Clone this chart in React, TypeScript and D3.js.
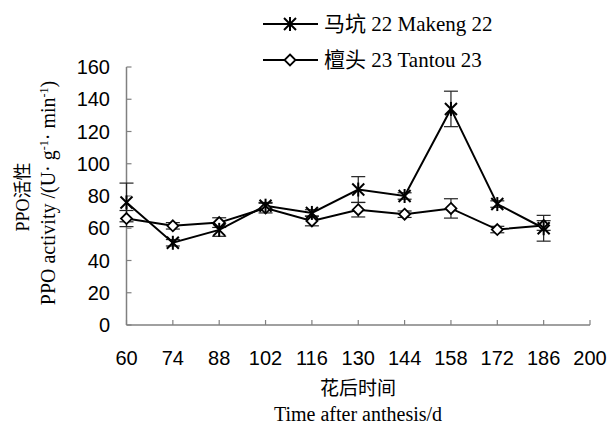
import React from "react";
import * as d3 from "d3";

const days = [60, 74, 88, 102, 116, 130, 144, 158, 172, 186];
const makeng = [76, 51, 59, 74, 69.5, 84, 80, 134, 75, 60];
const makengErr = [12, 2, 4, 2, 2, 8, 2, 11, 2, 8];
const tantou = [66, 61.5, 63.5, 72.5, 64.5, 71.5, 68.7, 72.3, 59.2, 61.7];
const tantouErr = [5, 2, 3, 3, 3, 4.5, 2, 6, 2, 3];
const xTicks = [60, 74, 88, 102, 116, 130, 144, 158, 172, 186, 200];
const yTicks = [0, 20, 40, 60, 80, 100, 120, 140, 160];

export default function App() {
  const W = 610, H = 427;
  const x = d3.scaleLinear().domain([60, 200]).range([126.5, 590]);
  const y = d3.scaleLinear().domain([0, 160]).range([325, 67]);
  const line = d3.line<number>().x((_, i) => x(days[i])).y((d) => y(d));
  const axisColor = "#808080";
  const sans = "'Liberation Sans', Arial, sans-serif";
  const serif = "'Liberation Serif', 'Times New Roman', 'Noto Sans CJK SC', serif";

  const star = (cx: number, cy: number, key: string) => (
    <g key={key} stroke="#000" strokeWidth={2}>
      <line x1={cx - 6} y1={cy - 6} x2={cx + 6} y2={cy + 6} />
      <line x1={cx - 6} y1={cy + 6} x2={cx + 6} y2={cy - 6} />
      <line x1={cx} y1={cy - 7} x2={cx} y2={cy + 7} />
    </g>
  );
  const diamond = (cx: number, cy: number, key: string) => (
    <path
      key={key}
      d={`M${cx},${cy - 5.5}L${cx + 5.5},${cy}L${cx},${cy + 5.5}L${cx - 5.5},${cy}Z`}
      fill="#fff"
      stroke="#000"
      strokeWidth={1.8}
    />
  );
  const errBar = (cx: number, v: number, e: number, key: string) => (
    <g key={key} stroke="#222" strokeWidth={1.2}>
      <line x1={cx} y1={y(v - e)} x2={cx} y2={y(v + e)} />
      <line x1={cx - 7} y1={y(v - e)} x2={cx + 7} y2={y(v - e)} />
      <line x1={cx - 7} y1={y(v + e)} x2={cx + 7} y2={y(v + e)} />
    </g>
  );

  return (
    <svg width={W} height={H} style={{ position: "absolute", left: 0, top: 0, background: "#fff" }}>
      {/* axes */}
      <line x1={x(60)} y1={y(0)} x2={x(200)} y2={y(0)} stroke={axisColor} strokeWidth={1.5} />
      <line x1={x(60)} y1={y(0)} x2={x(60)} y2={y(160)} stroke={axisColor} strokeWidth={1.5} />
      {yTicks.map((t) => (
        <g key={"yt" + t}>
          <line x1={x(60)} x2={x(60) + 5} y1={y(t)} y2={y(t)} stroke={axisColor} strokeWidth={1.2} />
          <text x={110} y={y(t)} dy="0.36em" textAnchor="end" fontFamily={sans} fontSize={20} fill="#000">
            {t}
          </text>
        </g>
      ))}
      {xTicks.map((t) => (
        <g key={"xt" + t}>
          <line x1={x(t)} x2={x(t)} y1={y(0)} y2={y(0) - 5} stroke={axisColor} strokeWidth={1.2} />
          <text x={x(t)} y={365} textAnchor="middle" fontFamily={sans} fontSize={20} fill="#000">
            {t}
          </text>
        </g>
      ))}
      {/* error bars */}
      {days.map((d, i) => errBar(x(d), makeng[i], makengErr[i], "me" + i))}
      {days.map((d, i) => errBar(x(d), tantou[i], tantouErr[i], "te" + i))}
      {/* lines */}
      <path d={line(makeng) || ""} fill="none" stroke="#000" strokeWidth={2} />
      <path d={line(tantou) || ""} fill="none" stroke="#000" strokeWidth={2} />
      {days.map((d, i) => diamond(x(d), y(tantou[i]), "td" + i))}
      {days.map((d, i) => star(x(d), y(makeng[i]), "ms" + i))}
      {/* legend */}
      <line x1={263} x2={318} y1={24} y2={24} stroke="#000" strokeWidth={2} />
      {star(290, 24, "ls")}
      <text x={324} y={31} fontFamily={serif} fontSize={21} fill="#000">马坑 22 Makeng 22</text>
      <line x1={263} x2={318} y1={60} y2={60} stroke="#000" strokeWidth={2} />
      {diamond(290, 60, "ld")}
      <text x={324} y={67} fontFamily={serif} fontSize={21} fill="#000">檀头 23 Tantou 23</text>
      {/* axis titles */}
      <text x={358} y={395} textAnchor="middle" fontFamily={serif} fontSize={19} fill="#000">花后时间</text>
      <text x={358} y={421} textAnchor="middle" fontFamily={serif} fontSize={20} fill="#000">Time after anthesis/d</text>
      <g transform="translate(29,197) rotate(-90)">
        <text x={0} y={0} textAnchor="middle" fontFamily={serif} fontSize={18} fill="#000">PPO活性</text>
      </g>
      <g transform="translate(55,193) rotate(-90)">
        <text x={0} y={0} textAnchor="middle" fontFamily={serif} fontSize={20} fill="#000">
          PPO activity /(U· g<tspan dy={-7} fontSize={12}>-1</tspan>
          <tspan dy={7}>· min</tspan>
          <tspan dy={-7} fontSize={12}>-1</tspan>
          <tspan dy={7}>)</tspan>
        </text>
      </g>
    </svg>
  );
}
